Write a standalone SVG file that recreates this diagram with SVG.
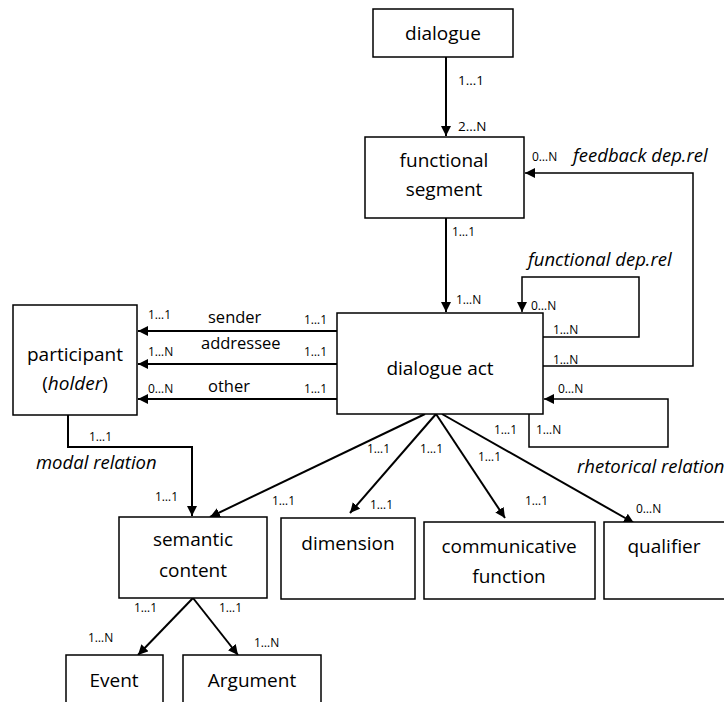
<svg xmlns="http://www.w3.org/2000/svg" width="724" height="702" viewBox="0 0 724 702">
<style>
.box{fill:#fff;stroke:#000;stroke-width:1.5}
.ln{fill:none;stroke:#000;stroke-width:2}
.lp{fill:none;stroke:#000;stroke-width:1.5}
.t{font-family:"Open Sans",sans-serif;font-size:19px;fill:#000;text-anchor:middle}
.r{font-family:"Open Sans",sans-serif;font-size:16.5px;fill:#000}
.i{font-family:"Open Sans",sans-serif;font-size:18.5px;font-style:italic;fill:#000}
.s{font-family:"Open Sans",sans-serif;font-size:12px;fill:#000}
.m{font-family:"Open Sans",sans-serif;font-size:13.5px;fill:#000}
</style>
<defs>
<marker id="ah" viewBox="0 0 10 10" refX="10" refY="5" markerWidth="10" markerHeight="10" markerUnits="userSpaceOnUse" orient="auto">
<path d="M0,0 L10,5 L0,10 Z" fill="#000"/>
</marker>
</defs>
<g id="connectors">
<line class="ln" x1="446" y1="57" x2="446" y2="136" marker-end="url(#ah)"/>
<line class="ln" x1="446" y1="218" x2="446" y2="312" marker-end="url(#ah)"/>
<polyline class="lp" points="543,366 693,366 693,173 525,173" marker-end="url(#ah)"/>
<polyline class="lp" points="543,337 639,337 639,277 522,277 522,312" marker-end="url(#ah)"/>
<polyline class="lp" points="529,414 529,447 668,447 668,399 544,399" marker-end="url(#ah)"/>
<line class="ln" x1="337" y1="331" x2="138" y2="331" marker-end="url(#ah)"/>
<line class="ln" x1="337" y1="364" x2="138" y2="364" marker-end="url(#ah)"/>
<line class="ln" x1="337" y1="399" x2="138" y2="399" marker-end="url(#ah)"/>
<polyline class="ln" points="68,415 68,447 192,447 192,516" marker-end="url(#ah)"/>
<line class="ln" x1="425" y1="414" x2="210" y2="517" marker-end="url(#ah)"/>
<line class="ln" x1="436" y1="414" x2="350" y2="513" marker-end="url(#ah)"/>
<line class="ln" x1="436" y1="414" x2="505" y2="518" marker-end="url(#ah)"/>
<line class="ln" x1="442" y1="414" x2="634" y2="523" marker-end="url(#ah)"/>
<line class="ln" x1="193" y1="598" x2="138" y2="655" marker-end="url(#ah)"/>
<line class="ln" x1="193" y1="598" x2="238" y2="655" marker-end="url(#ah)"/>
</g>
<g id="labels">
<text class="m" x="458" y="85">1…1</text>
<text class="m" x="458" y="131">2…N</text>
<text class="s" x="532" y="161">0…N</text>
<text class="i" x="573" y="162">feedback dep.rel</text>
<text class="s" x="452" y="236">1…1</text>
<text class="s" x="456" y="304">1…N</text>
<text class="i" x="528" y="266">functional dep.rel</text>
<text class="s" x="531" y="310">0…N</text>
<text class="s" x="553" y="334">1…N</text>
<text class="s" x="553" y="364">1…N</text>
<text class="s" x="558" y="393">0…N</text>
<text class="s" x="536" y="434">1…N</text>
<text class="s" x="494" y="434">1…1</text>
<text class="s" x="148" y="319">1…1</text>
<text class="r" x="208" y="323">sender</text>
<text class="s" x="304" y="324">1…1</text>
<text class="s" x="148" y="356">1…N</text>
<text class="r" x="201" y="349">addressee</text>
<text class="s" x="304" y="356">1…1</text>
<text class="s" x="148" y="393">0…N</text>
<text class="r" x="208" y="392">other</text>
<text class="s" x="304" y="393">1…1</text>
<text class="s" x="89" y="441">1…1</text>
<text class="i" x="36" y="469">modal relation</text>
<text class="s" x="155" y="501">1…1</text>
<text class="s" x="272" y="505">1…1</text>
<text class="s" x="367" y="453">1…1</text>
<text class="s" x="370" y="509">1…1</text>
<text class="s" x="420" y="453">1…1</text>
<text class="s" x="478" y="461">1…1</text>
<text class="s" x="525" y="505">1…1</text>
<text class="s" x="636" y="513">0…N</text>
<text class="i" x="577" y="473">rhetorical relation</text>
<text class="s" x="134" y="612">1…1</text>
<text class="s" x="219" y="612">1…1</text>
<text class="s" x="88" y="642">1…N</text>
<text class="s" x="254" y="647">1…N</text>
</g>
<g id="dialogue"><rect class="box" x="373" y="9" width="140" height="48"/><text class="t" x="443" y="40">dialogue</text></g>
<g id="functional-segment"><rect class="box" x="365" y="137" width="159" height="81"/><text class="t" x="444" y="167">functional</text><text class="t" x="444" y="196">segment</text></g>
<g id="dialogue-act"><rect class="box" x="337" y="313" width="206" height="101"/><text class="t" x="440" y="375">dialogue act</text></g>
<g id="participant"><rect class="box" x="13" y="305" width="124" height="110"/><text class="t" x="75" y="361">participant</text><text class="t" x="75" y="390">(<tspan font-style="italic">holder</tspan>)</text></g>
<g id="semantic-content"><rect class="box" x="119" y="517" width="148" height="81"/><text class="t" x="193" y="546">semantic</text><text class="t" x="193" y="577">content</text></g>
<g id="dimension"><rect class="box" x="281" y="518" width="134" height="81"/><text class="t" x="348" y="550">dimension</text></g>
<g id="communicative-function"><rect class="box" x="424" y="522" width="171" height="77"/><text class="t" x="509" y="553">communicative</text><text class="t" x="509" y="583">function</text></g>
<g id="qualifier"><rect class="box" x="604" y="522" width="130" height="77"/><text class="t" x="664" y="553">qualifier</text></g>
<g id="event"><rect class="box" x="66" y="655" width="97" height="60"/><text class="t" x="114" y="687">Event</text></g>
<g id="argument"><rect class="box" x="183" y="655" width="138" height="60"/><text class="t" x="252" y="687">Argument</text></g>
</svg>
